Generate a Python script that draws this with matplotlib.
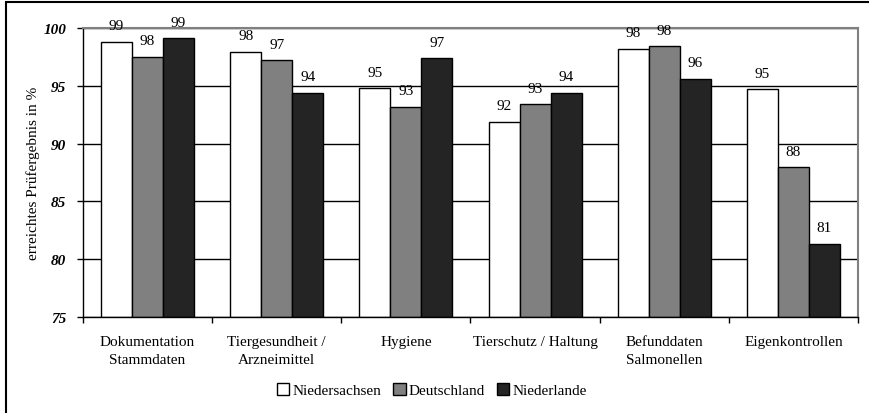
import numpy as np
import matplotlib
matplotlib.use('Agg')
import matplotlib.pyplot as plt
from matplotlib.patches import Rectangle

plt.rcParams['font.family'] = ['Liberation Serif', 'DejaVu Serif']

# Data
categories = ['Dokumentation\nStammdaten', 'Tiergesundheit /\nArzneimittel', 'Hygiene',
              'Tierschutz / Haltung', 'Befunddaten\nSalmonellen', 'Eigenkontrollen']
series_names = ['Niedersachsen', 'Deutschland', 'Niederlande']
niedersachsen = [98.8, 97.95, 94.8, 91.9, 98.2, 94.7]
deutschland = [97.5, 97.2, 93.2, 93.4, 98.4, 87.95]
niederlande = [99.1, 94.4, 97.4, 94.4, 95.6, 81.35]
colors = ['white', '#808080', '#242424']

fig = plt.figure(figsize=(8.7, 4.14), dpi=100)
ax = fig.add_axes([83/870, 1 - 318/414, (858 - 83)/870, (318 - 29)/414])

x = np.arange(len(categories))
width = 0.24
values = [niedersachsen, deutschland, niederlande]
for i, (vals, name, col) in enumerate(zip(values, series_names, colors)):
    ax.bar(x + (i - 1) * width, np.array(vals) - 75, width, bottom=75,
           color=col, edgecolor='black', linewidth=1.0, label=name, zorder=2)
    for xi, v in zip(x + (i - 1) * width, vals):
        ax.annotate(f'{round(v):d}', (xi, v), xytext=(0, 9), textcoords='offset points',
                    ha='center', va='baseline', fontsize=11)

ax.set_ylim(75, 100)
ax.set_xlim(-0.5, len(categories) - 0.5)
ax.set_yticks([75, 80, 85, 90, 95, 100])
ax.set_yticklabels(['75', '80', '85', '90', '95', '100'], fontweight='bold', fontstyle='italic', fontsize=11)
ax.yaxis.grid(True, color='black', linewidth=1.0, zorder=0)
ax.set_axisbelow(True)

# category ticks at group boundaries, labels at centers
ax.set_xticks(np.arange(-0.5, len(categories)), minor=False)
ax.set_xticklabels([])
ax.set_xticks(x, minor=True)
ax.set_xticklabels(categories, minor=True, fontsize=11, linespacing=1.45)
ax.tick_params(axis='x', which='minor', length=0, pad=13)
ax.tick_params(axis='x', which='major', length=4, width=1, direction='out')
ax.tick_params(axis='y', length=4, width=1, direction='out', pad=8)

for s in ['top', 'right']:
    ax.spines[s].set_color('#808080')
    ax.spines[s].set_linewidth(1.5)
for s in ['left', 'bottom']:
    ax.spines[s].set_color('black')
    ax.spines[s].set_linewidth(1.0)

ax.set_ylabel('erreichtes Prüfergebnis in %', fontsize=11)
ax.yaxis.set_label_coords((40 - 83) / 775, 0.5)

fig.legend(loc='center', bbox_to_anchor=(432/870, 1 - 391/414), ncol=3, frameon=False,
           fontsize=11, handlelength=0.8, handleheight=0.8, handletextpad=0.2,
           columnspacing=0.8, borderaxespad=0)

fig.add_artist(Rectangle((6/870, -0.1), 1.2, 1 - 3/414 + 0.1, transform=fig.transFigure,
                         fill=False, edgecolor='black', linewidth=1.5))

fig.savefig('out.png', dpi=100)
